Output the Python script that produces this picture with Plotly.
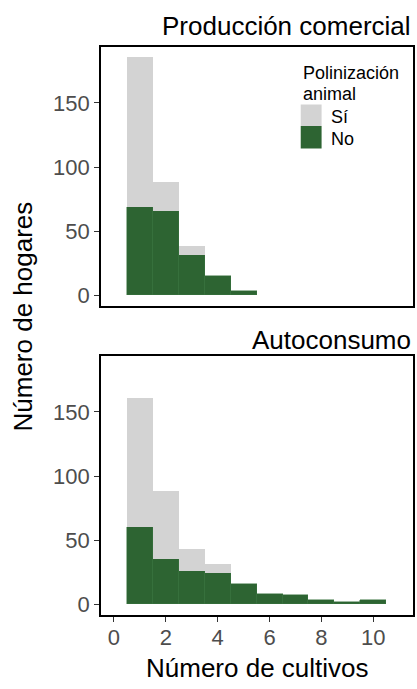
import plotly.graph_objects as go

# Data
cultivos = [1, 2, 3, 4, 5, 6, 7, 8, 9, 10]
comercial_no = [69, 66, 31, 15, 3, 0, 0, 0, 0, 0]
comercial_si = [117, 22, 7, 0, 0, 0, 0, 0, 0, 0]
auto_no = [60, 35, 26, 24, 16, 8, 7, 3, 2, 3]
auto_si = [101, 53, 17, 7, 0, 0, 0, 0, 0, 0]
y_ticks = [0, 50, 100, 150]
x_ticks = [0, 2, 4, 6, 8, 10]

GREEN = "#2d6432"
GRAY = "#d3d3d3"
FONT = "Liberation Sans, Arial, Helvetica, sans-serif"

W, H = 417, 689
# target pixel positions in the window
BOX_L, BOX_R = 101, 415
TOP_T, TOP_B = 47, 306
BOT_T, BOT_B = 356, 615

L = BOX_L
R = W - BOX_R
T = TOP_T
B = H - BOT_B
PW, PH = W - L - R, H - T - B


def px(x):
    return (x - L) / PW


def py(y):
    return (H - B - y) / PH


def nz(v):
    return [val if val != 0 else None for val in v]


fig = go.Figure()

for xa, ya, no, si in [("x", "y", comercial_no, comercial_si), ("x2", "y2", auto_no, auto_si)]:
    fig.add_trace(go.Bar(x=cultivos, y=nz(no), width=1, marker=dict(color=GREEN, line=dict(width=0.5, color="#3a7440")),
                         xaxis=xa, yaxis=ya, showlegend=False, hoverinfo="skip"))
    fig.add_trace(go.Bar(x=cultivos, y=nz(si), width=1, marker=dict(color=GRAY, line=dict(width=0)),
                         xaxis=xa, yaxis=ya, showlegend=False, hoverinfo="skip"))

axis_common = dict(showline=True, mirror=True, linecolor="black", linewidth=1.6, showgrid=False, zeroline=False)
yaxis_common = dict(axis_common, range=[-8.5, 193.7], tickvals=y_ticks, ticks="outside", ticklen=5,
                    tickcolor="#333333", tickwidth=1.2,
                    tickfont=dict(family=FONT, size=22, color="#4d4d4d"))

top_domain = [py(TOP_B), 1]
bot_domain = [0, py(BOT_T)]

fig.update_layout(
    width=W, height=H, margin=dict(l=L, r=R, t=T, b=B, pad=0),
    paper_bgcolor="white", plot_bgcolor="white",
    barmode="stack", bargap=0,
    font=dict(family=FONT),
    xaxis=dict(axis_common, range=[-0.5, 11.53], showticklabels=False, ticks="", anchor="y", domain=[0, 1]),
    yaxis=dict(yaxis_common, domain=top_domain, anchor="x"),
    xaxis2=dict(axis_common, range=[-0.5, 11.53], tickvals=x_ticks, ticks="outside", ticklen=5,
                tickcolor="#333333", tickwidth=1.2, ticklabelstandoff=-3,
                tickfont=dict(family=FONT, size=22, color="#4d4d4d"), anchor="y2", domain=[0, 1]),
    yaxis2=dict(yaxis_common, domain=bot_domain, anchor="x2"),
)

annotations = [
    dict(text="Producción comercial", x=px(415), y=py(26), xanchor="right", yanchor="middle",
         font=dict(size=26, color="black")),
    dict(text="Autoconsumo", x=px(415), y=py(340), xanchor="right", yanchor="middle",
         font=dict(size=26, color="black")),
    dict(text="Número de cultivos", x=px(258), y=py(668), xanchor="center", yanchor="middle",
         font=dict(size=26, color="black")),
    dict(text="Número de hogares", x=px(23), y=py(316), xanchor="center", yanchor="middle", textangle=-90,
         font=dict(size=26, color="black")),
    dict(text="Polinización", x=px(302), y=py(73), xanchor="left", yanchor="middle",
         font=dict(size=18, color="black")),
    dict(text="animal", x=px(302), y=py(94), xanchor="left", yanchor="middle",
         font=dict(size=18, color="black")),
    dict(text="Sí", x=px(330), y=py(117), xanchor="left", yanchor="middle",
         font=dict(size=18, color="black")),
    dict(text="No", x=px(330), y=py(139), xanchor="left", yanchor="middle",
         font=dict(size=18, color="black")),
]
for a in annotations:
    a.update(xref="paper", yref="paper", showarrow=False)
fig.update_layout(annotations=annotations)

shapes = [
    dict(type="rect", x0=px(302), x1=px(323), y0=py(126), y1=py(104.5), fillcolor=GRAY, line=dict(width=0)),
    dict(type="rect", x0=px(302), x1=px(323), y0=py(148.5), y1=py(126), fillcolor=GREEN, line=dict(width=0)),
]
for s in shapes:
    s.update(xref="paper", yref="paper")
fig.update_layout(shapes=shapes)

fig.write_html(
    "out.html",
    config={"displayModeBar": False},
    post_script="document.body.style.margin='0';document.body.style.overflow='hidden';"
                "document.documentElement.style.overflow='hidden';",
)
